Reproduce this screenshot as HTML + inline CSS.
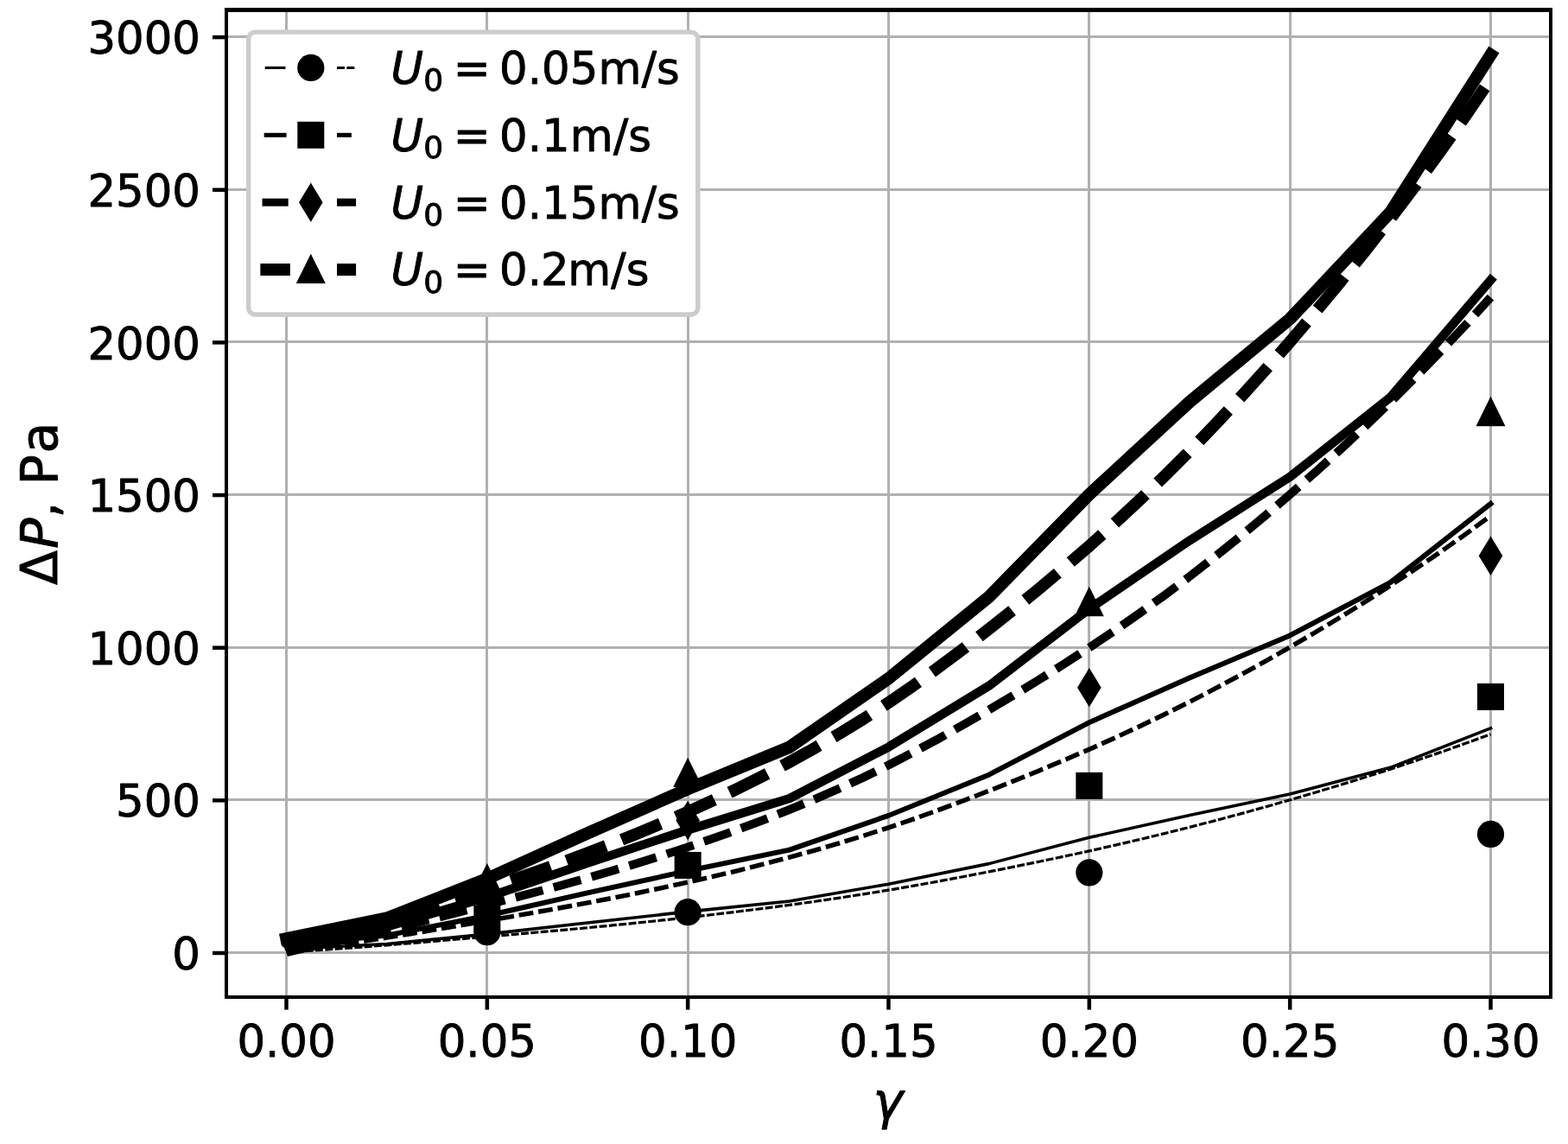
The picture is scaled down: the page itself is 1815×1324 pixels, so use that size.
<!DOCTYPE html>
<html lang="en">
<head>
<meta charset="utf-8">
<title>Pressure drop versus solid fraction</title>
<style>
html,body{margin:0;padding:0;background:#ffffff;}
body{width:1815px;height:1324px;overflow:hidden;}
svg{display:block;position:absolute;left:0;top:0;}
text{font-family:"DejaVu Sans","Liberation Sans",sans-serif;fill:#000;stroke:#000;stroke-linejoin:round;font-kerning:none;}
.tk{font-size:51.3px;stroke-width:0.9px;letter-spacing:0px;}
.lb{font-size:58.6px;stroke-width:0.9px;}
.it{font-style:oblique;}
.sub{font-size:35.91px;}
</style>
</head>
<body>
<svg width="1815" height="1324" viewBox="0 0 1815 1324">
<rect x="0" y="0" width="1815" height="1324" fill="#ffffff"/>
<defs><clipPath id="ax"><rect x="262" y="11.5" width="1533" height="1142.5"/></clipPath></defs>
<g stroke="#b0b0b0" stroke-width="3" fill="none" shape-rendering="crispEdges">
<line x1="331.5" y1="11.5" x2="331.5" y2="1154"/>
<line x1="563.83" y1="11.5" x2="563.83" y2="1154"/>
<line x1="796.17" y1="11.5" x2="796.17" y2="1154"/>
<line x1="1028.5" y1="11.5" x2="1028.5" y2="1154"/>
<line x1="1260.83" y1="11.5" x2="1260.83" y2="1154"/>
<line x1="1493.17" y1="11.5" x2="1493.17" y2="1154"/>
<line x1="1725.5" y1="11.5" x2="1725.5" y2="1154"/>
<line x1="262" y1="1102.5" x2="1795" y2="1102.5"/>
<line x1="262" y1="925.85" x2="1795" y2="925.85"/>
<line x1="262" y1="749.2" x2="1795" y2="749.2"/>
<line x1="262" y1="572.55" x2="1795" y2="572.55"/>
<line x1="262" y1="395.9" x2="1795" y2="395.9"/>
<line x1="262" y1="219.25" x2="1795" y2="219.25"/>
<line x1="262" y1="42.6" x2="1795" y2="42.6"/>
</g>
<g clip-path="url(#ax)" fill="none" stroke="#000000">
<polyline points="331.5,1098.44 447.67,1092.54 563.83,1081.13 680,1067.95 796.17,1055.16 913.73,1043.07 1028.5,1023.18 1144.67,999.62 1260.83,969.31 1377,943.51 1493.17,918.96 1609.33,888.33 1725.5,842.75" stroke-width="3.6" stroke-linecap="square" stroke-linejoin="round"/>
<polyline points="331.5,1101.93 360.54,1100.16 389.58,1098.21 418.62,1096.09 447.67,1093.84 476.71,1091.49 505.75,1089.06 534.79,1086.57 563.83,1084.06 592.88,1081.54 621.92,1078.99 650.96,1076.39 680,1073.71 709.04,1070.91 738.08,1068 767.12,1064.96 796.17,1061.78 825.21,1058.47 854.25,1055 883.29,1051.37 912.33,1047.56 941.38,1043.56 970.42,1039.34 999.46,1034.88 1028.5,1030.16 1057.54,1025.17 1086.58,1019.93 1115.62,1014.49 1144.67,1008.88 1173.71,1003.12 1202.75,997.21 1231.79,991.13 1260.83,984.85 1289.88,978.35 1318.92,971.61 1347.96,964.63 1377,957.38 1406.04,949.86 1435.08,942.08 1464.12,934.04 1493.17,925.76 1522.21,917.25 1551.25,908.5 1580.29,899.47 1609.33,890.17 1638.38,880.56 1667.42,870.62 1696.46,860.35 1725.5,849.71" stroke-width="3.2" stroke-linecap="butt" stroke-linejoin="round" stroke-dasharray="8.94 2.43" stroke-dashoffset="0.5"/>
<polyline points="331.5,1094.37 447.67,1082.54 563.83,1059.75 680,1033.43 796.17,1007.82 913.73,983.61 1028.5,943.87 1144.67,896.7 1260.83,836.11 1377,784.53 1493.17,735.42 1609.33,674.12 1725.5,582.97" stroke-width="5.9" stroke-linecap="square" stroke-linejoin="round"/>
<polyline points="331.5,1101.35 360.54,1097.82 389.58,1093.91 418.62,1089.68 447.67,1085.19 476.71,1080.48 505.75,1075.61 534.79,1070.64 563.83,1065.62 592.88,1060.58 621.92,1055.49 650.96,1050.28 680,1044.91 709.04,1039.32 738.08,1033.49 767.12,1027.41 796.17,1021.06 825.21,1014.44 854.25,1007.51 883.29,1000.24 912.33,992.62 941.38,984.62 970.42,976.18 999.46,967.26 1028.5,957.82 1057.54,947.84 1086.58,937.37 1115.62,926.48 1144.67,915.25 1173.71,903.74 1202.75,891.93 1231.79,879.76 1260.83,867.2 1289.88,854.2 1318.92,840.73 1347.96,826.76 1377,812.26 1406.04,797.22 1435.08,781.65 1464.12,765.58 1493.17,749.02 1522.21,732 1551.25,714.49 1580.29,696.45 1609.33,677.83 1638.38,658.61 1667.42,638.75 1696.46,618.2 1725.5,596.93" stroke-width="5.4" stroke-linecap="butt" stroke-linejoin="round" stroke-dasharray="16.88 5.87" stroke-dashoffset="0.5"/>
<polyline points="331.5,1090.31 447.67,1072.58 563.83,1038.38 680,998.91 796.17,960.47 913.73,924.15 1028.5,864.55 1144.67,793.79 1260.83,704.68 1377,625.54 1493.17,551.88 1609.33,459.92 1725.5,324.18" stroke-width="10.4" stroke-linecap="square" stroke-linejoin="round"/>
<polyline points="331.5,1100.78 360.54,1095.48 389.58,1089.62 418.62,1083.28 447.67,1076.53 476.71,1069.47 505.75,1062.17 534.79,1054.71 563.83,1047.17 592.88,1039.62 621.92,1031.98 650.96,1024.18 680,1016.12 709.04,1007.73 738.08,998.99 767.12,989.87 796.17,980.35 825.21,970.41 854.25,960.01 883.29,949.12 912.33,937.69 941.38,925.67 970.42,913.01 999.46,899.64 1028.5,885.49 1057.54,870.51 1086.58,854.8 1115.62,838.47 1144.67,821.63 1173.71,804.37 1202.75,786.64 1231.79,768.4 1260.83,749.55 1289.88,730.05 1318.92,709.84 1347.96,688.89 1377,667.15 1406.04,644.58 1435.08,621.23 1464.12,597.12 1493.17,572.29 1522.21,546.76 1551.25,520.49 1580.29,493.42 1609.33,465.5 1638.38,436.67 1667.42,406.87 1696.46,376.05 1725.5,344.14" stroke-width="9.9" stroke-linecap="butt" stroke-linejoin="round" stroke-dasharray="32.77 12.74" stroke-dashoffset="0.5"/>
<polyline points="331.5,1086.25 447.67,1062.58 563.83,1017 680,964.36 796.17,913.13 913.73,864.73 1028.5,785.24 1144.67,690.91 1260.83,572.2 1377,465.15 1493.17,369.05 1609.33,245.75 1725.5,63.44" stroke-width="14.4" stroke-linecap="square" stroke-linejoin="round"/>
<polyline points="331.5,1100.2 360.54,1093.14 389.58,1085.33 418.62,1076.87 447.67,1067.88 476.71,1058.46 505.75,1048.72 534.79,1038.78 563.83,1028.73 592.88,1018.66 621.92,1008.47 650.96,998.07 680,987.32 709.04,976.14 738.08,964.48 767.12,952.32 796.17,939.63 825.21,926.38 854.25,912.51 883.29,897.99 912.33,882.75 941.38,866.73 970.42,849.85 999.46,832.02 1028.5,813.15 1057.54,793.18 1086.58,772.23 1115.62,750.45 1144.67,728 1173.71,704.99 1202.75,681.36 1231.79,657.03 1260.83,631.9 1289.88,605.9 1318.92,578.96 1347.96,551.02 1377,522.03 1406.04,491.95 1435.08,460.81 1464.12,428.66 1493.17,395.55 1522.21,361.51 1551.25,326.48 1580.29,290.39 1609.33,253.17 1638.38,214.73 1667.42,174.99 1696.46,133.9 1725.5,91.36" stroke-width="13.9" stroke-linecap="butt" stroke-linejoin="round" stroke-dasharray="48.65 19.6" stroke-dashoffset="0.5"/>
</g>
<g clip-path="url(#ax)" fill="#000000" stroke="none">
<circle cx="563.83" cy="1078.65" r="15.6"/>
<circle cx="796.17" cy="1055.69" r="15.6"/>
<circle cx="1260.83" cy="1009.94" r="15.6"/>
<circle cx="1725.5" cy="965.42" r="15.6"/>
<rect x="548.33" y="1047.43" width="31" height="31"/>
<rect x="780.67" y="985.96" width="31" height="31"/>
<rect x="1245.33" y="893.89" width="31" height="31"/>
<rect x="1710" y="790.93" width="31" height="31"/>
<path d="M563.83 1016.91L577.63 1039.61L563.83 1062.31L550.03 1039.61Z"/>
<path d="M796.17 926.82L809.97 949.52L796.17 972.22L782.37 949.52Z"/>
<path d="M1260.83 772.96L1274.63 795.66L1260.83 818.36L1247.03 795.66Z"/>
<path d="M1725.5 620.51L1739.3 643.21L1725.5 665.91L1711.7 643.21Z"/>
<path d="M563.83 998.95L580.83 1033.35L546.83 1033.35Z"/>
<path d="M796.17 876.71L813.17 911.11L779.17 911.11Z"/>
<path d="M1260.83 678.86L1277.83 713.26L1243.83 713.26Z"/>
<path d="M1725.5 458.76L1742.5 493.16L1708.5 493.16Z"/>
</g>
<g fill="#000000" shape-rendering="crispEdges">
<rect x="260" y="9" width="4" height="1147"/>
<rect x="1793" y="9" width="4" height="1147"/>
<rect x="260" y="9" width="1537" height="5"/>
<rect x="260" y="1152" width="1537" height="4"/>
</g>
<g stroke="#000000" stroke-width="4.5" fill="none">
<line x1="331.5" y1="1154" x2="331.5" y2="1168.6"/>
<line x1="563.83" y1="1154" x2="563.83" y2="1168.6"/>
<line x1="796.17" y1="1154" x2="796.17" y2="1168.6"/>
<line x1="1028.5" y1="1154" x2="1028.5" y2="1168.6"/>
<line x1="1260.83" y1="1154" x2="1260.83" y2="1168.6"/>
<line x1="1493.17" y1="1154" x2="1493.17" y2="1168.6"/>
<line x1="1725.5" y1="1154" x2="1725.5" y2="1168.6"/>
<line x1="246" y1="1103" x2="262" y2="1103"/>
<line x1="246" y1="926.35" x2="262" y2="926.35"/>
<line x1="246" y1="749.7" x2="262" y2="749.7"/>
<line x1="246" y1="573.05" x2="262" y2="573.05"/>
<line x1="246" y1="396.4" x2="262" y2="396.4"/>
<line x1="246" y1="219.75" x2="262" y2="219.75"/>
<line x1="246" y1="43.1" x2="262" y2="43.1"/>
</g>
<g class="tk" text-anchor="middle">
<text x="331.5" y="1223">0.00</text>
<text x="563.83" y="1223">0.05</text>
<text x="796.17" y="1223">0.10</text>
<text x="1028.5" y="1223">0.15</text>
<text x="1260.83" y="1223">0.20</text>
<text x="1493.17" y="1223">0.25</text>
<text x="1725.5" y="1223">0.30</text>
</g>
<g class="tk" text-anchor="end">
<text x="232" y="1122.1">0</text>
<text x="232" y="945.45">500</text>
<text x="232" y="768.8">1000</text>
<text x="232" y="592.15">1500</text>
<text x="232" y="415.5">2000</text>
<text x="232" y="238.85">2500</text>
<text x="232" y="62.2">3000</text>
</g>
<text class="lb it" x="1010.5" y="1295">γ</text>
<g transform="translate(65.9,677) rotate(-90)"><text class="lb" x="0" y="0">Δ<tspan class="it" x="42">P</tspan><tspan x="77.4 96.5 115.6 152.5">, Pa</tspan></text></g>
<rect x="287.6" y="37.1" width="520.2" height="326.9" rx="8" ry="8" fill="#ffffff" stroke="#cccccc" stroke-width="5.4"/>
<line x1="306.73" y1="78.45" x2="330.47" y2="78.45" stroke="#000" stroke-width="3.1"/>
<line x1="390" y1="78.45" x2="412.1" y2="78.45" stroke="#000" stroke-width="3.1" stroke-dasharray="8.94 2.43"/>
<g fill="#000"><circle cx="359.8" cy="78.45" r="15.6"/></g>
<text class="tk" x="452.6" y="96.85"><tspan class="it">U</tspan><tspan class="sub" x="490.3" dy="8.45">0</tspan><tspan x="524.69" dy="-8.45">=</tspan><tspan x="577.89 610.66 627.04 659.81 692.58 742.76 760.12">0.05m/s</tspan></text>
<line x1="305.65" y1="156.32" x2="331.55" y2="156.32" stroke="#000" stroke-width="5"/>
<line x1="390" y1="156.32" x2="412.1" y2="156.32" stroke="#000" stroke-width="5" stroke-dasharray="16.88 5.87"/>
<g fill="#000"><rect x="344.3" y="140.82" width="31" height="31"/></g>
<text class="tk" x="452.6" y="174.72"><tspan class="it">U</tspan><tspan class="sub" x="490.3" dy="8.45">0</tspan><tspan x="524.69" dy="-8.45">=</tspan><tspan x="577.89 610.66 627.04 659.81 709.99 727.34">0.1m/s</tspan></text>
<line x1="303.51" y1="234.19" x2="333.69" y2="234.19" stroke="#000" stroke-width="9"/>
<line x1="390" y1="234.19" x2="412.1" y2="234.19" stroke="#000" stroke-width="9" stroke-dasharray="32.77 12.74"/>
<g fill="#000"><path d="M359.8 211.49L373.6 234.19L359.8 256.89L346 234.19Z"/></g>
<text class="tk" x="452.6" y="252.59"><tspan class="it">U</tspan><tspan class="sub" x="490.3" dy="8.45">0</tspan><tspan x="524.69" dy="-8.45">=</tspan><tspan x="577.89 610.66 627.04 659.81 692.58 742.76 760.12">0.15m/s</tspan></text>
<line x1="301.36" y1="312.06" x2="335.84" y2="312.06" stroke="#000" stroke-width="14"/>
<line x1="390" y1="312.06" x2="412.1" y2="312.06" stroke="#000" stroke-width="14" stroke-dasharray="48.65 19.6"/>
<g fill="#000"><path d="M359.8 293.66L376.8 328.06L342.8 328.06Z"/></g>
<text class="tk" x="452.6" y="330.46"><tspan class="it">U</tspan><tspan class="sub" x="490.3" dy="8.45">0</tspan><tspan x="524.69" dy="-8.45">=</tspan><tspan x="577.89 610.66 626.03 657.13 707.31 724.66">0.2m/s</tspan></text>
</svg>
</body>
</html>
